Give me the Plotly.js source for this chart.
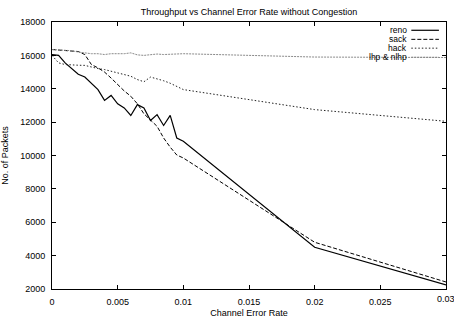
<!DOCTYPE html>
<html><head><meta charset="utf-8">
<script src="https://cdn.plot.ly/plotly-3.0.1.min.js"></script>
<style>html,body{margin:0;padding:0;background:#fff;}#chart{width:454px;height:322px;}</style>
</head><body><div id="chart"></div>
<script>
const errorRate = [0,0.0005,0.001,0.0015,0.002,0.0025,0.003,0.0035,0.004,0.0045,0.005,0.0055,0.006,0.0065,0.007,0.0075,0.008,0.0085,0.009,0.0095,0.01,0.02,0.03];
const reno = [16050,16000,15550,15200,14870,14700,14350,13950,13300,13600,13100,12850,12400,13050,12850,12100,12450,11800,12400,11050,10850,4500,2250];
const sack = [16350,16330,16300,16270,16230,16050,15450,15250,15000,14640,14250,13870,13550,13100,12500,12120,11750,11050,10500,10030,9850,4800,2420];
const hack = [16000,15550,15450,15410,15410,15400,15300,15210,15150,15040,14950,14860,14750,14550,14420,14700,14600,14480,14330,14150,13950,12750,12050];
const lhp = [16350,16330,16300,16280,16200,16150,16100,16100,16050,16100,16080,16100,16150,16030,16000,16050,16080,16050,16080,16100,16100,15900,15870];
const seriesNames = ["reno","sack","hack","lhp & nlhp"];
const xTickVals = [0,0.005,0.01,0.015,0.02,0.025,0.03];
const xTickText = ["0","0.005","0.01","0.015","0.02","0.025",""];
const xLastTickText = "0.03";
const yTickVals = [2000,4000,6000,8000,10000,12000,14000,16000,18000];

const styles = [
  {color:'#000', width:1.2, dash:'solid'},
  {color:'#000', width:1, dash:'4px,2px'},
  {color:'#222', width:1, dash:'1.5px,2px'},
  {color:'#8a8a8a', width:1, dash:'2px,1px'}
];
const ys = [reno, sack, hack, lhp];
const traces = ys.map((y,i)=>({x:errorRate, y:y, type:'scatter', mode:'lines', name:seriesNames[i], line:styles[i], showlegend:false}));

const font = {family:'Liberation Sans, Arial, sans-serif', size:9, color:'#000'};
const legFont = {family:'Liberation Sans, Arial, sans-serif', size:8.5, color:'#000'};
const legRows = [0.969,0.935,0.902,0.868];
const annotations = seriesNames.map((n,i)=>({xref:'paper', yref:'paper', x:0.903, y:legRows[i], xanchor:'right', yanchor:'middle', text:n, showarrow:false, font:legFont, borderpad:0}));
annotations.push({xref:'x', yref:'paper', x:xTickVals[xTickVals.length-1], y:-0.0374, xanchor:'center', yanchor:'middle', text:xLastTickText, showarrow:false, font:font, borderpad:0});
const shapes = styles.map((s,i)=>({type:'line', xref:'paper', yref:'paper', x0:0.912, x1:0.982, y0:legRows[i], y1:legRows[i], line:s}));

const axisCommon = {showline:true, mirror:'ticks', linecolor:'#000', linewidth:1, ticks:'inside', ticklen:4, tickcolor:'#000', showgrid:false, zeroline:false, tickfont:font};
const layout = {
  width:454, height:322,
  margin:{l:52, r:8, t:22, b:33},
  paper_bgcolor:'#fff', plot_bgcolor:'#fff',
  font:font,
  title:{text:'Throughput vs Channel Error Rate without Congestion', font:font, xref:'paper', x:0.5, xanchor:'center', yref:'container', y:0.963, yanchor:'middle'},
  xaxis:Object.assign({}, axisCommon, {range:[0,0.03], tickvals:xTickVals, ticktext:xTickText, ticklabelstandoff:4, title:{text:'Channel Error Rate', font:font, standoff:3}}),
  yaxis:Object.assign({}, axisCommon, {range:[2000,18000], tickvals:yTickVals, tickformat:'d', ticklabelstandoff:4, title:{text:'No. of Packets', font:font, standoff:10}}),
  annotations:annotations,
  shapes:shapes,
  showlegend:false
};
Plotly.newPlot('chart', traces, layout, {staticPlot:true, displayModeBar:false});
</script></body></html>
